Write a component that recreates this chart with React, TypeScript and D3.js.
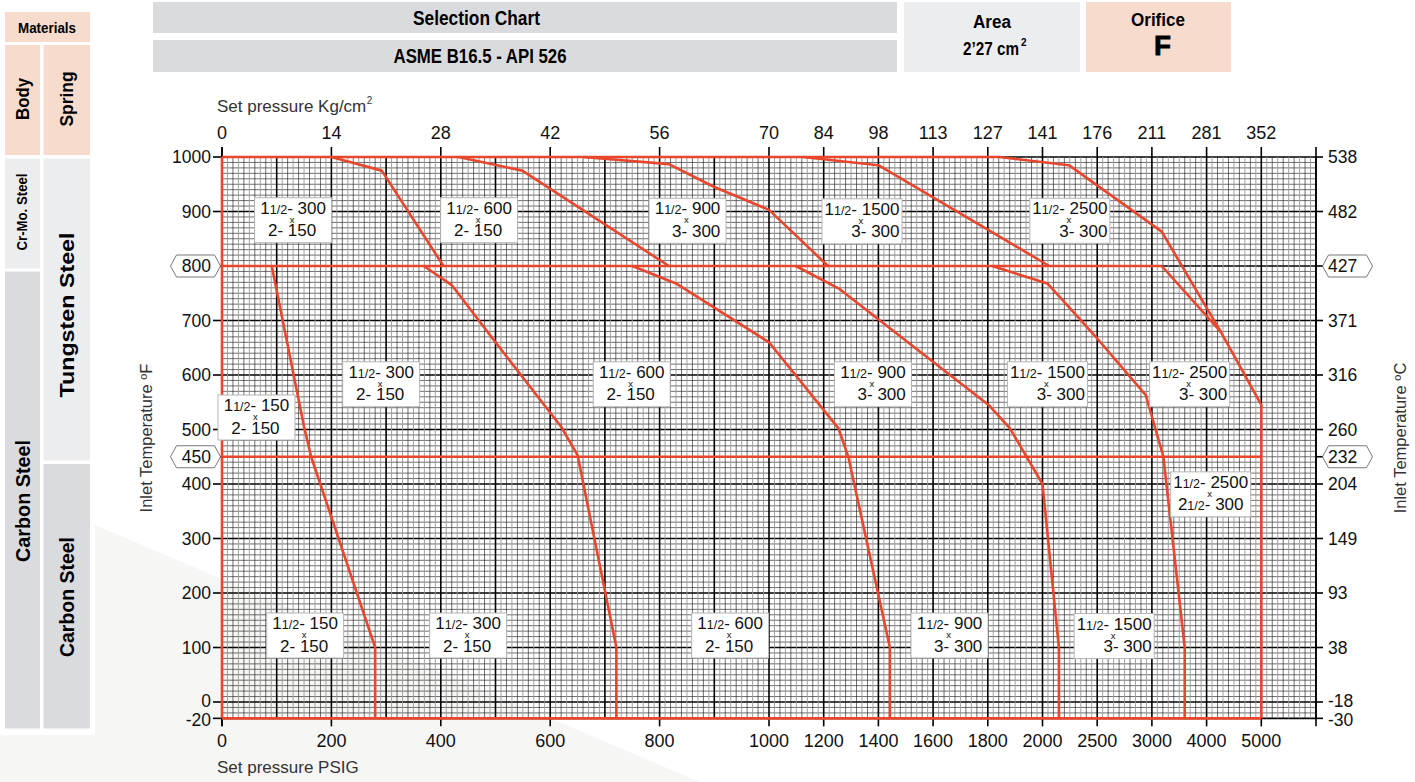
import React, { useEffect, useRef } from 'react';
import * as d3 from 'd3';

// bottom axis (PSIG) and matching top axis (Kg/cm2)
const psiTicks = [0, 200, 400, 600, 800, 1000, 1200, 1400, 1600, 1800, 2000, 2500, 3000, 4000, 5000];
const kgTicks = [0, 14, 28, 42, 56, 70, 84, 98, 113, 127, 141, 176, 211, 281, 352];
// left axis (ºF) and matching right axis (ºC)
const tempTicksF = [1000, 900, 800, 700, 600, 500, 450, 400, 300, 200, 100, 0, -20];
const tempTicksC = [538, 482, 427, 371, 316, 260, 232, 204, 149, 93, 38, -18, -30];
const boxedTicksF = [800, 450];

// limit lines [psi, ºF]
const topLimit: [number, number][] = [[0, 1000], [1842, 1000]];
const limit800: [number, number][] = [[0, 800], [3180, 800]];
const limit450: [number, number][] = [[0, 450], [5000, 450]];
const leftLimit: [number, number][] = [[0, 1000], [0, -20]];
const bottomLimit: [number, number][] = [[0, -20], [5000, -20]];

// Cr-Mo body curves (800 - 1000 ºF)
const crmo300: [number, number][] = [[200, 1000], [292, 975], [405, 800]];
const crmo600: [number, number][] = [[432, 1000], [549, 975], [817, 800]];
const crmo900: [number, number][] = [[660, 1000], [817, 987], [900, 945], [1000, 903], [1216, 800]];
const crmo1500: [number, number][] = [[1124, 1000], [1400, 985], [2062, 800]];
const crmo2500: [number, number][] = [[1842, 1000], [2241, 985], [3180, 863], [4260, 679], [5000, 545], [5000, -20]];
const tung2500: [number, number][] = [[3180, 800], [4260, 679]];

// carbon steel / tungsten spring curves
const cs150: [number, number][] = [[91, 800], [150, 505], [163, 450], [280, 100], [280, -20]];
const cs300: [number, number][] = [[369, 800], [420, 765], [500, 660], [620, 505], [650, 453], [721, 100], [721, -20]];
const cs600: [number, number][] = [[750, 800], [830, 768], [1000, 660], [1254, 502], [1290, 450], [1442, 100], [1442, -20]];
const cs900: [number, number][] = [[1098, 800], [1254, 759], [1803, 545], [1881, 502], [2000, 400], [2150, 100], [2150, -20]];
const cs1500: [number, number][] = [[1816, 800], [2045, 768], [2500, 667], [2944, 563], [3210, 450], [3600, 100], [3600, -20]];

const redLines = [topLimit, limit800, limit450, leftLimit, bottomLimit,
  crmo300, crmo600, crmo900, crmo1500, crmo2500, tung2500,
  cs150, cs300, cs600, cs900, cs1500];

// valve size labels: inlet 1 1/2" class / outlet size class
const labelPsi = [130, 470, 851, 1340, 2250, 291, 749, 1380, 2045, 3690, 63, 4075, 152, 450, 929, 1660, 2655];
const labelTemp = [884, 884, 883, 882, 883, 583, 583, 583, 583, 583, 522, 381, 122, 122, 122, 122, 121];
const labelInClass = ['300', '600', '900', '1500', '2500', '300', '600', '900', '1500', '2500', '150', '2500', '150', '300', '600', '900', '1500'];
const labelOutSize = ['2', '2', '3', '3', '3', '2', '2', '3', '3', '3', '2', '2½', '2', '2', '2', '3', '3'];
const labelOutClass = ['150', '150', '300', '300', '300', '150', '150', '300', '300', '300', '150', '300', '150', '150', '150', '300', '300'];

const RED = '#e8462d';
const PEACH = '#f7dccd';
const GREY = '#dadbde';
const LIGHT = '#ecedef';
const SANS = "'Liberation Sans', Arial, Helvetica, sans-serif";

const App: React.FC = () => {
  const svgRef = useRef<SVGSVGElement>(null);

  useEffect(() => {
    if (!svgRef.current) return;
    const svg = d3.select(svgRef.current);
    svg.selectAll('*').remove();
    svg.attr('font-family', SANS);

    const left = 222, top = 157, cellW = 54.7, cellH = 54.5;
    const nCols = 20, nRows = 103;
    const right = left + nCols * cellW;
    const bottom = top + nRows * cellH / 10;

    const x = d3.scaleLinear()
      .domain([0, 1000, 2000, 2500, 3000, 4000, 5000])
      .range([0, 10, 15, 16, 17, 18, 19].map(c => left + c * cellW));
    const y = d3.scaleLinear()
      .domain([-20, 0, 1000])
      .range([bottom, top + 10 * cellH, top]);

    // background wedge
    svg.append('path')
      .attr('d', 'M0,735 L95,735 L95,525 L700,782 L0,782 Z')
      .attr('fill', '#f6f6f4');

    // condensed bold text helper
    const bold = (parent: d3.Selection<any, any, any, any>, t: string, size: number, len: number) =>
      parent.append('text').attr('font-weight', 'bold').attr('font-size', size)
        .attr('textLength', len).attr('lengthAdjust', 'spacingAndGlyphs').text(t);

    // materials column
    const mat = svg.append('g');
    const cell = (x0: number, y0: number, w: number, h: number, fill: string) =>
      mat.append('rect').attr('x', x0).attr('y', y0).attr('width', w).attr('height', h).attr('fill', fill);
    mat.append('rect').attr('x', 0).attr('y', 8).attr('width', 95).attr('height', 727).attr('fill', '#fff');
    cell(5, 12, 85, 30, PEACH);
    cell(5, 45, 35, 110, PEACH);
    cell(43.5, 45, 46.5, 110, PEACH);
    cell(5, 158.5, 35, 110, LIGHT);
    cell(5, 271.5, 35, 457, GREY);
    cell(43.5, 158.5, 46.5, 302, LIGHT);
    cell(43.5, 464, 46.5, 264.5, GREY);
    bold(mat, 'Materials', 15, 58).attr('x', 18).attr('y', 33);
    const vtext = (cx: number, cy: number, size: number, len: number, t: string) =>
      bold(mat.append('g').attr('transform', `translate(${cx},${cy}) rotate(-90)`), t, size, len)
        .attr('x', -len / 2).attr('dy', '0.35em');
    vtext(22.5, 99, 18, 42, 'Body');
    vtext(66.7, 99, 18, 55, 'Spring');
    vtext(22.5, 212, 14, 77, 'Cr-Mo. Steel');
    vtext(66.7, 315, 20, 165, 'Tungsten Steel');
    vtext(22.5, 501, 20, 122, 'Carbon Steel');
    vtext(66.7, 597, 20, 120, 'Carbon Steel');

    // header
    const hd = svg.append('g');
    hd.append('rect').attr('x', 153).attr('y', 2).attr('width', 744).attr('height', 31).attr('fill', GREY);
    hd.append('rect').attr('x', 153).attr('y', 40).attr('width', 744).attr('height', 32).attr('fill', GREY);
    bold(hd, 'Selection Chart', 20, 127).attr('x', 413).attr('y', 25);
    bold(hd, 'ASME B16.5 - API 526', 20, 173).attr('x', 393.5).attr('y', 63);
    hd.append('rect').attr('x', 904).attr('y', 2).attr('width', 176).attr('height', 70).attr('fill', LIGHT);
    bold(hd, 'Area', 18, 38).attr('x', 973).attr('y', 28);
    bold(hd, '2’27 cm', 18, 56).attr('x', 963).attr('y', 55);
    hd.append('text').attr('x', 1021).attr('y', 46).attr('font-weight', 'bold').attr('font-size', 10).text('2');
    hd.append('rect').attr('x', 1086).attr('y', 2).attr('width', 145).attr('height', 70).attr('fill', PEACH);
    bold(hd, 'Orifice', 19, 54).attr('x', 1131).attr('y', 26);
    bold(hd, 'F', 28, 17).attr('x', 1154).attr('y', 55).attr('font-weight', 900).attr('stroke', '#000').attr('stroke-width', 0.8);

    // grid
    const grid = svg.append('g');
    d3.range(0, nRows + 1).forEach(j => {
      const yy = top + j * cellH / 10;
      const major = j % 10 === 0 || j === nRows;
      grid.append('line').attr('x1', left).attr('x2', right).attr('y1', yy).attr('y2', yy)
        .attr('stroke', major ? '#000' : '#222').attr('stroke-width', major ? 1.6 : 0.65);
    });
    d3.range(0, nCols * 10 + 1).forEach(i => {
      const xx = left + i * cellW / 10;
      const major = i % 10 === 0;
      grid.append('line').attr('x1', xx).attr('x2', xx).attr('y1', top).attr('y2', bottom)
        .attr('stroke', major ? '#000' : (i % 2 ? '#999' : '#222'))
        .attr('stroke-width', major ? 1.6 : (i % 2 ? 0.9 : 0.65));
    });

    // axes
    const ax = svg.append('g').attr('fill', '#111');
    ax.append('line').attr('x1', left).attr('x2', left).attr('y1', top - 10).attr('y2', bottom + 8).attr('stroke', '#000').attr('stroke-width', 1.6);
    ax.append('line').attr('x1', right).attr('x2', right).attr('y1', top - 10).attr('y2', bottom + 8).attr('stroke', '#000').attr('stroke-width', 1.6);
    psiTicks.forEach((p, i) => {
      const xx = x(p);
      ax.append('line').attr('x1', xx).attr('x2', xx).attr('y1', top - 10).attr('y2', top).attr('stroke', '#000').attr('stroke-width', 1.6);
      ax.append('line').attr('x1', xx).attr('x2', xx).attr('y1', bottom).attr('y2', bottom + 8).attr('stroke', '#000').attr('stroke-width', 1.6);
      ax.append('text').attr('x', xx).attr('y', 139).attr('text-anchor', 'middle').attr('font-size', 18).text(kgTicks[i]);
      ax.append('text').attr('x', xx).attr('y', 747).attr('text-anchor', 'middle').attr('font-size', 18).text(p);
    });
    tempTicksF.forEach((t, i) => {
      const yy = y(t);
      ax.append('line').attr('x1', left - 9).attr('x2', left).attr('y1', yy).attr('y2', yy).attr('stroke', '#000').attr('stroke-width', 1.6);
      ax.append('line').attr('x1', right).attr('x2', right + 7).attr('y1', yy).attr('y2', yy).attr('stroke', '#000').attr('stroke-width', 1.6);
      if (boxedTicksF.includes(t)) {
        const hex = (cx: number) => `M${cx - 25},${yy} L${cx - 19},${yy - 11} L${cx + 19},${yy - 11} L${cx + 25},${yy} L${cx + 19},${yy + 11} L${cx - 19},${yy + 11} Z`;
        ax.append('path').attr('d', hex(left - 26.5)).attr('fill', '#fff').attr('stroke', '#555').attr('stroke-width', 0.8);
        ax.append('path').attr('d', hex(right + 31.5)).attr('fill', '#fff').attr('stroke', '#555').attr('stroke-width', 0.8);
      }
      // the -20 / 0 rows sit close together, keep their glyphs apart
      const dy = t === -20 ? '0.45em' : t === 0 ? '0.3em' : '0.36em';
      ax.append('text').attr('x', left - 11).attr('y', yy).attr('dy', dy).attr('text-anchor', 'end').attr('font-size', 17.5).text(t);
      ax.append('text').attr('x', right + 12).attr('y', yy).attr('dy', dy).attr('text-anchor', 'start').attr('font-size', 17.5).text(tempTicksC[i]);
    });
    const kgTitle = ax.append('text').attr('x', 217).attr('y', 112).attr('font-size', 17).attr('fill', '#333').text('Set pressure Kg/cm');
    const kgW = (kgTitle.node() as SVGTextElement).getComputedTextLength();
    ax.append('text').attr('x', 217 + kgW + 0.5).attr('y', 104).attr('font-size', 10).attr('fill', '#333').text('2');
    ax.append('text').attr('x', 217).attr('y', 773).attr('font-size', 17).attr('fill', '#333').text('Set pressure PSIG');
    ax.append('text').attr('transform', 'translate(146,438) rotate(-90)').attr('text-anchor', 'middle')
      .attr('dominant-baseline', 'central').attr('font-size', 16.5).attr('fill', '#333').text('Inlet Temperature ºF');
    ax.append('text').attr('transform', 'translate(1400,438) rotate(-90)').attr('text-anchor', 'middle')
      .attr('dominant-baseline', 'central').attr('font-size', 16.5).attr('fill', '#333').text('Inlet Temperature ºC');

    // red limit curves
    const line = d3.line<[number, number]>().x(d => x(d[0])).y(d => y(d[1]));
    const rl = svg.append('g');
    redLines.forEach(pts => {
      rl.append('path').attr('d', line(pts)).attr('fill', 'none').attr('stroke', RED)
        .attr('stroke-width', 2.6).attr('stroke-linejoin', 'round');
    });

    // size labels
    const lb = svg.append('g').attr('fill', '#111');
    labelPsi.forEach((p, i) => {
      const g = lb.append('g').attr('transform', `translate(${x(p)},${y(labelTemp[i])})`);
      const rect = g.append('rect').attr('fill', '#fff').attr('stroke', '#b5b5b5').attr('stroke-width', 1);
      const l1 = g.append('text').attr('x', 0).attr('y', -6.5).attr('text-anchor', 'middle').attr('font-size', 17);
      l1.append('tspan').text('1');
      l1.append('tspan').attr('font-size', 12.5).text('1/2');
      l1.append('tspan').text('- ' + labelInClass[i]);
      const n1 = l1.node() as SVGTextElement;
      const w1 = n1.getComputedTextLength();
      const out = labelOutSize[i];
      const l2 = g.append('text').attr('y', 16).attr('font-size', 17);
      if (out === '2½') {
        l2.attr('x', 0).attr('text-anchor', 'middle');
        l2.append('tspan').text('2');
        l2.append('tspan').attr('font-size', 12.5).text('1/2');
        l2.append('tspan').text('- ' + labelOutClass[i]);
      } else if (out === '3') {
        l2.attr('x', w1 / 2).attr('text-anchor', 'end').text(out + '- ' + labelOutClass[i]);
      } else {
        l2.attr('x', -1).attr('text-anchor', 'middle').text(out + '- ' + labelOutClass[i]);
      }
      g.append('text').attr('x', -1).attr('y', 2.5).attr('text-anchor', 'middle').attr('font-size', 9.5).text('x');
      const bw = Math.max(77, w1 + 5);
      rect.attr('x', -bw / 2).attr('y', -22.5).attr('width', bw).attr('height', 45);
    });
  }, []);

  return (
    <div style={{ position: 'absolute', left: 0, top: 0 }}>
      <svg ref={svgRef} width={1415} height={782} style={{ display: 'block', background: '#fff' }} />
    </div>
  );
};

export default App;
